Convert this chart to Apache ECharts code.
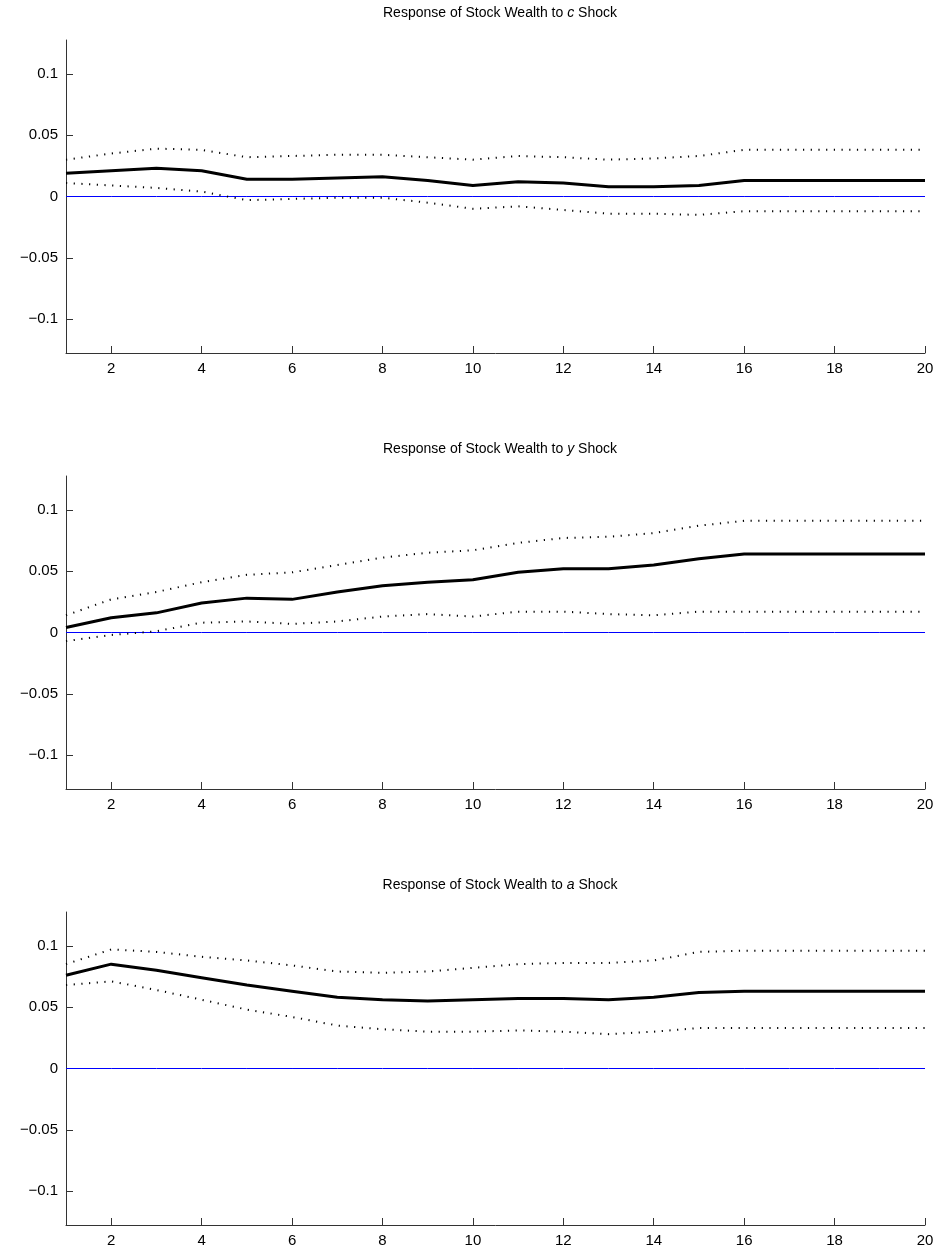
<!DOCTYPE html>
<html>
<head>
<meta charset="utf-8">
<script src="https://cdn.jsdelivr.net/npm/echarts@6/dist/echarts.min.js"></script>
<style>html,body{margin:0;padding:0;background:#fff}#chart{width:940px;height:1253px}</style>
</head>
<body>
<div id="chart"></div>
<script>
var periods = [1,2,3,4,5,6,7,8,9,10,11,12,13,14,15,16,17,18,19,20];
var yTicks = [-0.1, -0.05, 0, 0.05, 0.1];
var xTicks = [2,4,6,8,10,12,14,16,18,20];
var shocks = ['c', 'y', 'a'];

var cMid = [0.019,0.021,0.023,0.021,0.014,0.014,0.015,0.016,0.013,0.009,0.012,0.011,0.008,0.008,0.009,0.013,0.013,0.013,0.013,0.013];
var cUp  = [0.030,0.035,0.039,0.038,0.032,0.033,0.034,0.034,0.032,0.030,0.033,0.032,0.030,0.031,0.033,0.038,0.038,0.038,0.038,0.038];
var cLo  = [0.011,0.009,0.007,0.004,-0.003,-0.002,-0.001,-0.001,-0.005,-0.010,-0.008,-0.011,-0.014,-0.014,-0.015,-0.012,-0.012,-0.012,-0.012,-0.012];

var yMid = [0.004,0.012,0.016,0.024,0.028,0.027,0.033,0.038,0.041,0.043,0.049,0.052,0.052,0.055,0.060,0.064,0.064,0.064,0.064,0.064];
var yUp  = [0.014,0.027,0.033,0.041,0.047,0.049,0.055,0.061,0.065,0.067,0.073,0.077,0.078,0.081,0.087,0.091,0.091,0.091,0.091,0.091];
var yLo  = [-0.007,-0.002,0.001,0.008,0.009,0.007,0.009,0.013,0.015,0.013,0.017,0.017,0.015,0.014,0.017,0.017,0.017,0.017,0.017,0.017];

var aMid = [0.076,0.085,0.080,0.074,0.068,0.063,0.058,0.056,0.055,0.056,0.057,0.057,0.056,0.058,0.062,0.063,0.063,0.063,0.063,0.063];
var aUp  = [0.085,0.097,0.095,0.091,0.088,0.084,0.079,0.078,0.079,0.082,0.085,0.086,0.086,0.088,0.095,0.096,0.096,0.096,0.096,0.096];
var aLo  = [0.068,0.071,0.064,0.056,0.048,0.042,0.035,0.032,0.030,0.030,0.031,0.030,0.028,0.030,0.033,0.033,0.033,0.033,0.033,0.033];

var panels = [[cMid, cUp, cLo], [yMid, yUp, yLo], [aMid, aUp, aLo]];
var tops = [40, 476, 912];
var zeros = periods.map(function () { return 0; });

function pairs(vals) {
  return periods.map(function (p, i) { return [p, vals[i]]; });
}

var dotted = {color: '#000', width: 2, type: [1.2, 6.5]};
var grids = [], xAxes = [], yAxes = [], series = [], titles = [];
panels.forEach(function (pn, k) {
  grids.push({left: 66, width: 859, top: tops[k], height: 313});
  titles.push({
    text: '{n|Response of Stock Wealth to }{i|' + shocks[k] + '}{n| Shock}',
    left: 495, top: tops[k] - 39, textAlign: 'center',
    textStyle: {fontWeight: 'normal', rich: {
      n: {fontFamily: 'Liberation Sans', fontSize: 14, fontWeight: 'normal', color: '#000'},
      i: {fontFamily: 'Liberation Sans', fontSize: 14, fontWeight: 'normal', fontStyle: 'italic', color: '#000'}
    }}
  });
  xAxes.push({
    type: 'value', gridIndex: k, min: 1, max: 20,
    axisLine: {onZero: false, lineStyle: {color: '#333', width: 1}},
    axisTick: {inside: true, length: 7, customValues: xTicks, lineStyle: {color: '#333'}},
    axisLabel: {customValues: xTicks, color: '#000', fontSize: 15, fontFamily: 'Liberation Sans', margin: 8},
    splitLine: {show: false}
  });
  yAxes.push({
    type: 'value', gridIndex: k, min: -0.1275, max: 0.1275,
    axisLine: {show: true, lineStyle: {color: '#333', width: 1}},
    axisTick: {show: true, inside: true, length: 7, customValues: yTicks, lineStyle: {color: '#333'}},
    axisLabel: {customValues: yTicks, color: '#000', fontSize: 15, fontFamily: 'Liberation Sans', margin: 8,
      formatter: function (v) { return String(Math.round(v * 1000) / 1000).replace('-', '\u2212'); }},
    splitLine: {show: false}
  });
  series.push({type: 'line', xAxisIndex: k, yAxisIndex: k, data: pairs(zeros), symbol: 'none', silent: true,
    lineStyle: {color: '#0000ff', width: 1}});
  series.push({type: 'line', xAxisIndex: k, yAxisIndex: k, data: pairs(pn[1]), symbol: 'none', lineStyle: dotted});
  series.push({type: 'line', xAxisIndex: k, yAxisIndex: k, data: pairs(pn[2]), symbol: 'none', lineStyle: dotted});
  series.push({type: 'line', xAxisIndex: k, yAxisIndex: k, data: pairs(pn[0]), symbol: 'none',
    lineStyle: {color: '#000', width: 3}});
});

var chart = echarts.init(document.getElementById('chart'));
chart.setOption({
  animation: false,
  title: titles,
  grid: grids,
  xAxis: xAxes,
  yAxis: yAxes,
  series: series
});
</script>
</body>
</html>
